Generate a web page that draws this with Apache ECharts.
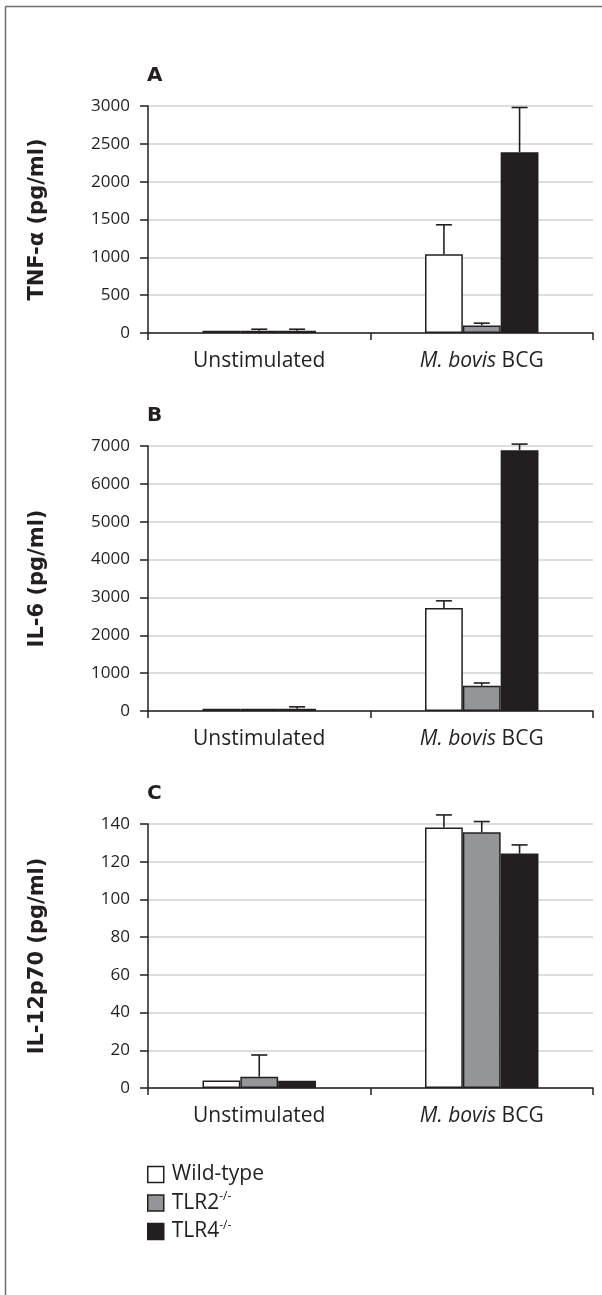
<!DOCTYPE html>
<html>
<head>
<meta charset="utf-8">
<script src="https://cdn.jsdelivr.net/npm/echarts@6/dist/echarts.min.js"></script>
<style>
html,body{margin:0;padding:0;background:#fff;}
#chart{width:602px;height:1295px;}
</style>
</head>
<body>
<div id="chart"></div>
<script>
// ---- data ----
const categories = ['Unstimulated', 'M. bovis BCG'];
const groupNames = ['Wild-type', 'TLR2-/-', 'TLR4-/-'];
const panelLetters = ['A', 'B', 'C'];
const yAxisTitles = ['TNF-α (pg/ml)', 'IL-6 (pg/ml)', 'IL-12p70 (pg/ml)'];

// Panel A: TNF-alpha
const tnfWildType = [30, 1040];
const tnfTlr2 = [30, 100];
const tnfTlr4 = [30, 2390];
const tnfWildTypeErr = [0, 390];
const tnfTlr2Err = [20, 30];
const tnfTlr4Err = [20, 590];
const tnfAxis = [0, 3000, 500]; // min, max, step

// Panel B: IL-6
const il6WildType = [60, 2720];
const il6Tlr2 = [60, 670];
const il6Tlr4 = [60, 6890];
const il6WildTypeErr = [0, 190];
const il6Tlr2Err = [0, 70];
const il6Tlr4Err = [50, 160];
const il6Axis = [0, 7000, 1000];

// Panel C: IL-12p70
const il12WildType = [4.0, 138.2];
const il12Tlr2 = [6.0, 135.6];
const il12Tlr4 = [3.8, 124.3];
const il12WildTypeErr = [0, 6.6];
const il12Tlr2Err = [11.5, 5.7];
const il12Tlr4Err = [0, 4.6];
const il12Axis = [0, 140, 20];

// ---- styling ----
const FONT = "'Open Sans', 'Noto Sans', sans-serif";
const BOLD_FONT = "'DejaVu Sans', 'Open Sans', sans-serif";
const INK = '#231f20';
const barColors = ['#ffffff', '#939598', '#231f20'];
const gridBoxes = [
  {top: 106, bottom: 1295 - 333},
  {top: 446, bottom: 1295 - 711},
  {top: 824, bottom: 1295 - 1088}
];
const BAR_GAP_FRAC = 0.49;

const panels = [
  {means: [tnfWildType, tnfTlr2, tnfTlr4], errs: [tnfWildTypeErr, tnfTlr2Err, tnfTlr4Err], axis: tnfAxis},
  {means: [il6WildType, il6Tlr2, il6Tlr4], errs: [il6WildTypeErr, il6Tlr2Err, il6Tlr4Err], axis: il6Axis},
  {means: [il12WildType, il12Tlr2, il12Tlr4], errs: [il12WildTypeErr, il12Tlr2Err, il12Tlr4Err], axis: il12Axis}
];

const grids = [], xAxes = [], yAxes = [], series = [], titles = [];

panels.forEach((p, pi) => {
  grids.push({left: 148, right: 9, top: gridBoxes[pi].top, bottom: gridBoxes[pi].bottom, containLabel: false});
  titles.push({
    text: panelLetters[pi], left: 147, top: gridBoxes[pi].top - 40, padding: 0,
    textStyle: {fontFamily: BOLD_FONT, fontWeight: 'bold', fontSize: 20, color: INK}
  });
  xAxes.push({
    type: 'category', gridIndex: pi, data: categories, boundaryGap: true,
    axisLine: {show: true, lineStyle: {color: INK, width: 1.5}},
    axisTick: {show: true, length: 7, lineStyle: {color: INK, width: 1.5}},
    axisLabel: {
      margin: 18, fontFamily: FONT, fontSize: 21, color: INK,
      formatter: v => v.startsWith('M. bovis') ? '{i|M. bovis} BCG' : v,
      rich: {i: {fontFamily: FONT, fontSize: 21, fontStyle: 'italic', color: INK}}
    },
    splitLine: {show: false}
  });
  yAxes.push({
    type: 'value', gridIndex: pi, min: p.axis[0], max: p.axis[1], interval: p.axis[2],
    name: yAxisTitles[pi], nameLocation: 'middle', nameGap: 100, nameRotate: 90,
    nameTextStyle: {fontFamily: BOLD_FONT, fontWeight: 'bold', fontSize: 21, color: INK},
    axisLine: {show: true, lineStyle: {color: INK, width: 1.5}},
    axisTick: {show: true, length: 8, lineStyle: {color: INK, width: 1.5}},
    axisLabel: {margin: 18, fontFamily: FONT, fontSize: 17, color: INK, formatter: v => String(v)},
    splitLine: {show: true, lineStyle: {color: '#d1d3d4', width: 1.5}}
  });
  p.means.forEach((vals, gi) => {
    series.push({
      type: 'bar', name: groupNames[gi], xAxisIndex: pi, yAxisIndex: pi,
      data: vals, barGap: '0%', barCategoryGap: (BAR_GAP_FRAC * 100) + '%',
      itemStyle: {color: barColors[gi], borderColor: INK, borderWidth: 1.5},
      emphasis: {disabled: true}, z: 2
    });
  });
  const errData = [];
  p.means.forEach((vals, gi) => {
    vals.forEach((v, ci) => {
      if (p.errs[gi][ci] > 0) errData.push([ci, v, p.errs[gi][ci], gi]);
    });
  });
  series.push({
    type: 'custom', xAxisIndex: pi, yAxisIndex: pi, data: errData, z: 5,
    silent: true,
    renderItem: (params, api) => {
      const ci = api.value(0), v = api.value(1), e = api.value(2), gi = api.value(3);
      const base = api.coord([ci, v]);
      const top = api.coord([ci, v + e]);
      const band = api.size([1, 0])[0];
      const barW = band * (1 - BAR_GAP_FRAC) / 3;
      const x = base[0] + (gi - 1) * barW;
      const cap = 8;
      const st = {stroke: INK, lineWidth: 1.6};
      return {type: 'group', children: [
        {type: 'line', shape: {x1: x, y1: base[1], x2: x, y2: top[1]}, style: st},
        {type: 'line', shape: {x1: x - cap, y1: top[1], x2: x + cap, y2: top[1]}, style: st}
      ]};
    }
  });
});

const option = {
  animation: false,
  backgroundColor: '#ffffff',
  title: titles,
  grid: grids,
  xAxis: xAxes,
  yAxis: yAxes,
  series: series,
  legend: {
    orient: 'vertical', left: 147, top: 1164, padding: 0,
    itemWidth: 16, itemHeight: 16, itemGap: 6,
    selectedMode: false,
    data: groupNames.map((n, i) => ({name: n, icon: 'rect',
      itemStyle: {color: barColors[i], borderColor: INK, borderWidth: 1.5}})),
    formatter: n => {
      if (n.startsWith('TLR')) { const m = n.match(/^(TLR\d)(.*)$/); return '{b|' + m[1] + '}{s|' + m[2] + '}'; }
      return '{b|' + n + '}';
    },
    textStyle: {
      fontFamily: FONT, fontSize: 21, color: INK, padding: [0, 0, 0, 3],
      rich: {
        b: {fontFamily: FONT, fontSize: 21, lineHeight: 24, color: INK},
        s: {fontFamily: FONT, fontSize: 12, lineHeight: 14, verticalAlign: 'top', color: INK}
      }
    }
  },
  graphic: [
    {type: 'line', shape: {x1: 5.5, y1: 6.5, x2: 602, y2: 6.5}, style: {stroke: '#6d6e71', lineWidth: 1.5}, silent: true},
    {type: 'line', shape: {x1: 5.5, y1: 6.5, x2: 5.5, y2: 1295}, style: {stroke: '#6d6e71', lineWidth: 1.5}, silent: true}
  ]
};

const chart = echarts.init(document.getElementById('chart'), null, {renderer: 'canvas'});
chart.setOption(option);
</script>
</body>
</html>
